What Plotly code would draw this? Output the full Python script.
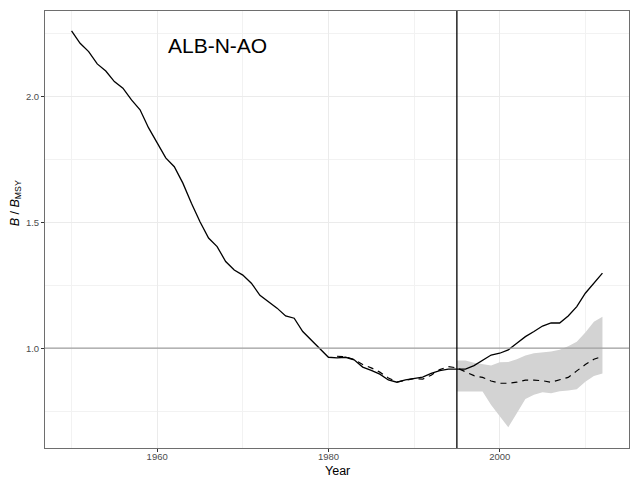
import plotly.graph_objects as go

years = list(range(1950, 2013))
b_ratio = [2.259, 2.21, 2.177, 2.128, 2.10, 2.058, 2.032, 1.985, 1.946, 1.874,
           1.815, 1.755, 1.72, 1.655, 1.575, 1.502, 1.437, 1.403, 1.344, 1.31,
           1.29, 1.258, 1.21, 1.185, 1.159, 1.128, 1.119, 1.066, 1.033, 1.0,
           0.964, 0.962, 0.964, 0.954, 0.925, 0.912, 0.897, 0.874, 0.865, 0.874,
           0.881, 0.885, 0.90, 0.911, 0.917, 0.917, 0.917, 0.931, 0.951, 0.973,
           0.98, 0.993, 1.02, 1.046, 1.066, 1.088, 1.10, 1.10, 1.128, 1.165,
           1.218, 1.258, 1.298]

proj_years = list(range(1981, 2013))
proj_median = [0.968, 0.966, 0.955, 0.935, 0.922, 0.905, 0.882, 0.866, 0.872, 0.88,
               0.877, 0.893, 0.915, 0.927, 0.922, 0.907, 0.891, 0.884, 0.87, 0.861,
               0.861, 0.865, 0.873, 0.873, 0.871, 0.865, 0.873, 0.884, 0.91, 0.935,
               0.956, 0.968]

band_years = list(range(1995, 2013))
band_upper = [0.951, 0.951, 0.942, 0.935, 0.931, 0.944, 0.945, 0.956, 0.971, 0.98,
              0.983, 0.987, 0.994, 1.008, 1.026, 1.062, 1.105, 1.125]
band_lower = [0.828, 0.828, 0.828, 0.828, 0.775, 0.729, 0.686, 0.742, 0.798, 0.815,
              0.825, 0.821, 0.829, 0.832, 0.837, 0.867, 0.89, 0.90]

ref_level = 1.0
cut_year = 1995
stock_label = "ALB-N-AO"

fig = go.Figure()
fig.add_trace(go.Scatter(x=band_years, y=band_lower, mode="lines",
                         line=dict(width=0, color="rgba(0,0,0,0)"),
                         showlegend=False, hoverinfo="skip"))
fig.add_trace(go.Scatter(x=band_years, y=band_upper, mode="lines",
                         line=dict(width=0, color="rgba(0,0,0,0)"),
                         fill="tonexty", fillcolor="#d3d3d3",
                         showlegend=False, hoverinfo="skip"))
fig.add_hline(y=ref_level, line=dict(color="#a0a0a0", width=1.3))
fig.add_vline(x=cut_year, line=dict(color="black", width=1.3))
fig.add_trace(go.Scatter(x=years, y=b_ratio, mode="lines",
                         line=dict(color="black", width=1.3), showlegend=False))
fig.add_trace(go.Scatter(x=proj_years, y=proj_median, mode="lines",
                         line=dict(color="black", width=1.2, dash="6px,5px"),
                         showlegend=False))

fig.add_annotation(x=1967, y=2.2, text=stock_label, showarrow=False,
                   font=dict(size=21, color="black", family="Liberation Sans"),
                   xanchor="center", yanchor="middle")

# axis titles as annotations for precise placement
fig.add_annotation(x=0.5, y=0, xref="paper", yref="paper", text="Year",
                   showarrow=False, xanchor="center", yanchor="middle", yshift=-23,
                   font=dict(size=12.5, color="black", family="Liberation Sans"))
fig.add_annotation(x=0, y=0.56, xref="paper", yref="paper",
                   text="<i>B</i> / <i>B</i><sub>MSY</sub>", textangle=-90,
                   showarrow=False, xanchor="center", yanchor="middle", xshift=-29,
                   font=dict(size=12.5, color="black", family="Liberation Sans"))

fig.update_layout(
    width=630, height=477,
    margin=dict(l=45, r=1, t=11, b=29),
    paper_bgcolor="white", plot_bgcolor="white",
    font=dict(family="Liberation Sans", color="#4d4d4d"),
)
fig.update_xaxes(
    range=[1946.9, 2015.1], tickvals=[1960, 1980, 2000],
    showgrid=True, gridcolor="#ebebeb", gridwidth=1,
    minor=dict(tickvals=[1950, 1970, 1990, 2010], showgrid=True,
               gridcolor="#f2f2f2", gridwidth=0.6, ticks=""),
    ticks="outside", ticklen=3, tickcolor="#333333",
    tickfont=dict(size=9.5, color="#4d4d4d"), ticklabelstandoff=-3,
    showline=True, linecolor="#6e6e6e", linewidth=1, mirror=True,
    zeroline=False,
)
fig.update_yaxes(
    range=[0.604, 2.338], tickvals=[1.0, 1.5, 2.0], ticktext=["1.0", "1.5", "2.0"],
    showgrid=True, gridcolor="#ebebeb", gridwidth=1,
    minor=dict(tickvals=[0.75, 1.25, 1.75, 2.25], showgrid=True,
               gridcolor="#f2f2f2", gridwidth=0.6, ticks=""),
    ticks="outside", ticklen=3, tickcolor="#333333",
    tickfont=dict(size=9.5, color="#4d4d4d"),
    showline=True, linecolor="#6e6e6e", linewidth=1, mirror=True,
    zeroline=False,
)

fig.write_html("out.html")
